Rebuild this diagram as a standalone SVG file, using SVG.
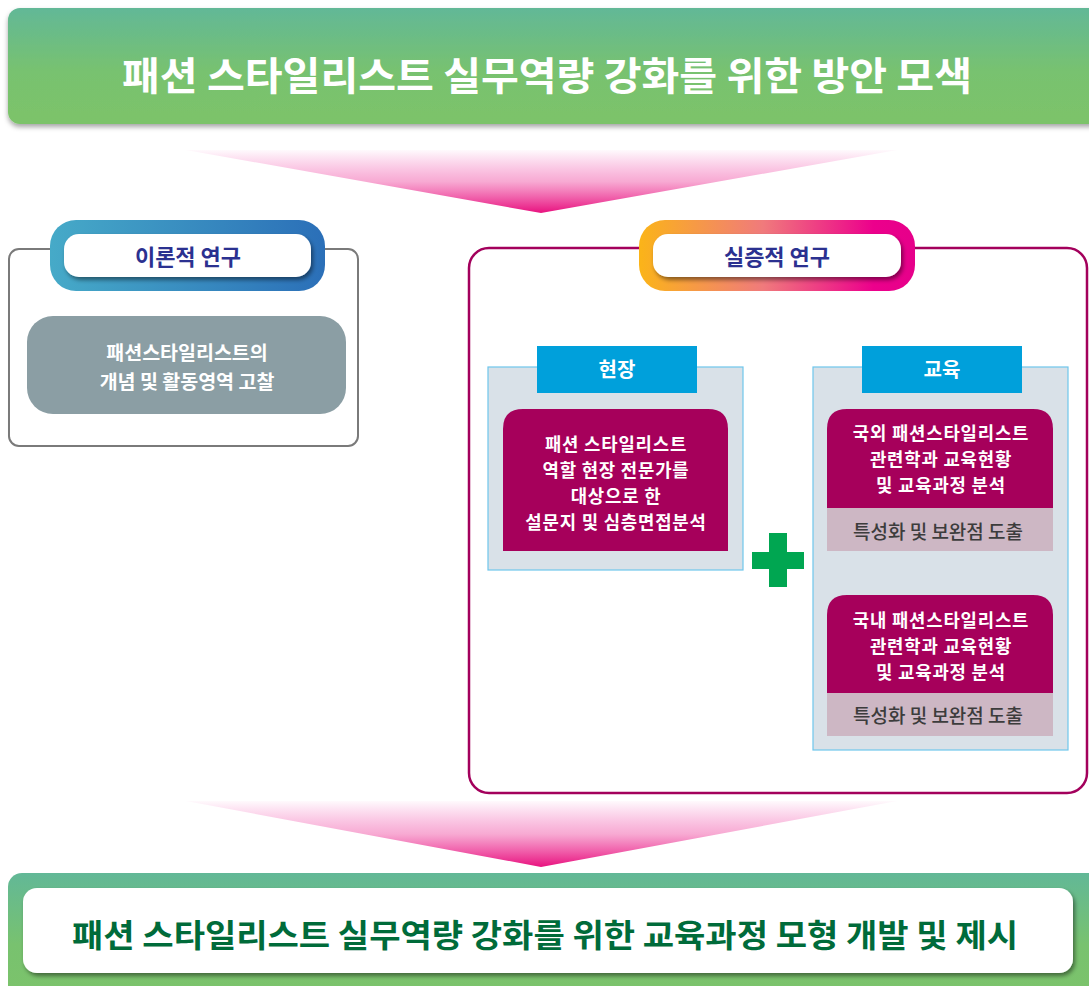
<svg xmlns="http://www.w3.org/2000/svg" width="1089" height="986" viewBox="0 0 1089 986">
<defs>
<linearGradient id="gBanner" x1="0" y1="0" x2="0" y2="1">
<stop offset="0" stop-color="#62b897"/>
<stop offset="0.55" stop-color="#78c26f"/>
<stop offset="1" stop-color="#7cc36a"/>
</linearGradient>
<linearGradient id="gArrow" x1="0" y1="0" x2="0" y2="1">
<stop offset="0" stop-color="#ec008c" stop-opacity="0.02"/>
<stop offset="0.5" stop-color="#ec2a90" stop-opacity="0.4"/>
<stop offset="1" stop-color="#e8127f" stop-opacity="1"/>
</linearGradient>
<linearGradient id="gBlue" x1="0" y1="0" x2="1" y2="0">
<stop offset="0" stop-color="#46aac8"/>
<stop offset="1" stop-color="#2b6fb8"/>
</linearGradient>
<linearGradient id="gOrange" x1="0" y1="0" x2="1" y2="0">
<stop offset="0" stop-color="#fbb418"/>
<stop offset="0.45" stop-color="#f07a7c"/>
<stop offset="0.85" stop-color="#ec008c"/>
<stop offset="1" stop-color="#e6008a"/>
</linearGradient>
<filter id="shadow" x="-5%" y="-20%" width="110%" height="150%">
<feDropShadow dx="0" dy="3" stdDeviation="2.5" flood-color="#000" flood-opacity="0.35"/>
</filter>
<filter id="pillShadow" x="-10%" y="-30%" width="120%" height="170%">
<feDropShadow dx="2" dy="3" stdDeviation="2" flood-color="#000" flood-opacity="0.45"/>
</filter>
<style>
text{font-family:"Noto Sans CJK KR","Noto Sans",sans-serif;text-anchor:middle;dominant-baseline:central}
.w{fill:#fff;font-weight:700}
.pillT{fill:#2b3190;font-weight:700;font-size:22px}
.mag{fill:#a6005b}
.sub{fill:#cdb7c4}
.subT{fill:#3c3c3c;font-weight:500;font-size:19px}
.panel{fill:#d9e1e8;stroke:#6ec6ec;stroke-width:1.2}
.hdr{fill:#00a0db}
.body{font-size:17.8px;letter-spacing:0.8px}
</style>
</defs>

<g id="top-banner">
<rect x="8" y="8" width="1095" height="116" rx="12" fill="url(#gBanner)" filter="url(#shadow)"/>
<text class="w" x="547" y="73" font-size="39" textLength="850" lengthAdjust="spacingAndGlyphs">패션 스타일리스트 실무역량 강화를 위한 방안 모색</text>
</g>

<g id="connectors">
<polygon points="186,150 897,150 541,213" fill="url(#gArrow)"/>
<polygon points="186,801 897,801 541,867" fill="url(#gArrow)"/>
</g>

<g id="theory">
<rect x="9" y="249" width="349" height="197" rx="10" fill="#fff" stroke="#7a7a7a" stroke-width="2"/>
<rect x="50" y="220" width="275" height="71" rx="26" fill="url(#gBlue)"/>
<rect x="64" y="234" width="247" height="43" rx="15" fill="#fff" filter="url(#pillShadow)"/>
<text class="pillT" x="188" y="255">이론적 연구</text>
</g>

<g id="theory-item">
<rect x="27" y="316" width="319" height="98" rx="26" fill="#8b9ea4"/>
<text class="w" font-size="19.5"><tspan x="187" y="351">패션스타일리스트의</tspan><tspan x="187" y="380">개념 및 활동영역 고찰</tspan></text>
</g>

<g id="empirical">
<rect x="469" y="248" width="618" height="545" rx="20" fill="#fff" stroke="#a3005c" stroke-width="2.5"/>
<rect x="639" y="220" width="276" height="71" rx="26" fill="url(#gOrange)"/>
<rect x="653" y="234" width="248" height="43" rx="15" fill="#fff" filter="url(#pillShadow)"/>
<text class="pillT" x="777" y="255">실증적 연구</text>
</g>

<g id="field">
<rect class="panel" x="488" y="367" width="255" height="203"/>
<rect class="hdr" x="537" y="346" width="160" height="47"/>
<text class="w" x="617" y="368" font-size="20">현장</text>
<path class="mag" d="M503,551 V429 Q503,409 523,409 H708 Q728,409 728,429 V551 Z"/>
<text class="w body"><tspan x="616" y="443">패션 스타일리스트</tspan><tspan x="616" y="469">역할 현장 전문가를</tspan><tspan x="616" y="495">대상으로 한</tspan><tspan x="616" y="521">설문지 및 심층면접분석</tspan></text>
</g>

<g id="plus">
<path d="M769,533 H787 V552 H804 V569 H787 V587 H769 V569 H752 V552 H769 Z" fill="#00a651"/>
</g>

<g id="education">
<rect class="panel" x="813" y="367" width="255" height="383"/>
<rect class="hdr" x="862" y="346" width="160" height="47"/>
<text class="w" x="942" y="368" font-size="20">교육</text>
</g>

<g id="edu-abroad">
<path class="mag" d="M827,508 V429 Q827,409 847,409 H1033 Q1053,409 1053,429 V508 Z"/>
<rect class="sub" x="827" y="508" width="226" height="43"/>
<text class="w body"><tspan x="941" y="432">국외 패션스타일리스트</tspan><tspan x="941" y="458">관련학과 교육현황</tspan><tspan x="941" y="484">및 교육과정 분석</tspan></text>
<text class="subT" x="938" y="530">특성화 및 보완점 도출</text>
</g>

<g id="edu-domestic">
<path class="mag" d="M827,693 V615 Q827,595 847,595 H1033 Q1053,595 1053,615 V693 Z"/>
<rect class="sub" x="827" y="693" width="226" height="43"/>
<text class="w body"><tspan x="941" y="619">국내 패션스타일리스트</tspan><tspan x="941" y="645">관련학과 교육현황</tspan><tspan x="941" y="671">및 교육과정 분석</tspan></text>
<text class="subT" x="938" y="714">특성화 및 보완점 도출</text>
</g>

<g id="bottom-banner">
<rect x="8" y="873" width="1095" height="130" rx="14" fill="url(#gBanner)"/>
<rect x="23" y="888" width="1050" height="85" rx="14" fill="#fff" filter="url(#pillShadow)"/>
<text x="545" y="933" font-size="32" font-weight="700" fill="#006b3a" textLength="946" lengthAdjust="spacingAndGlyphs">패션 스타일리스트 실무역량 강화를 위한 교육과정 모형 개발 및 제시</text>
</g>
</svg>
